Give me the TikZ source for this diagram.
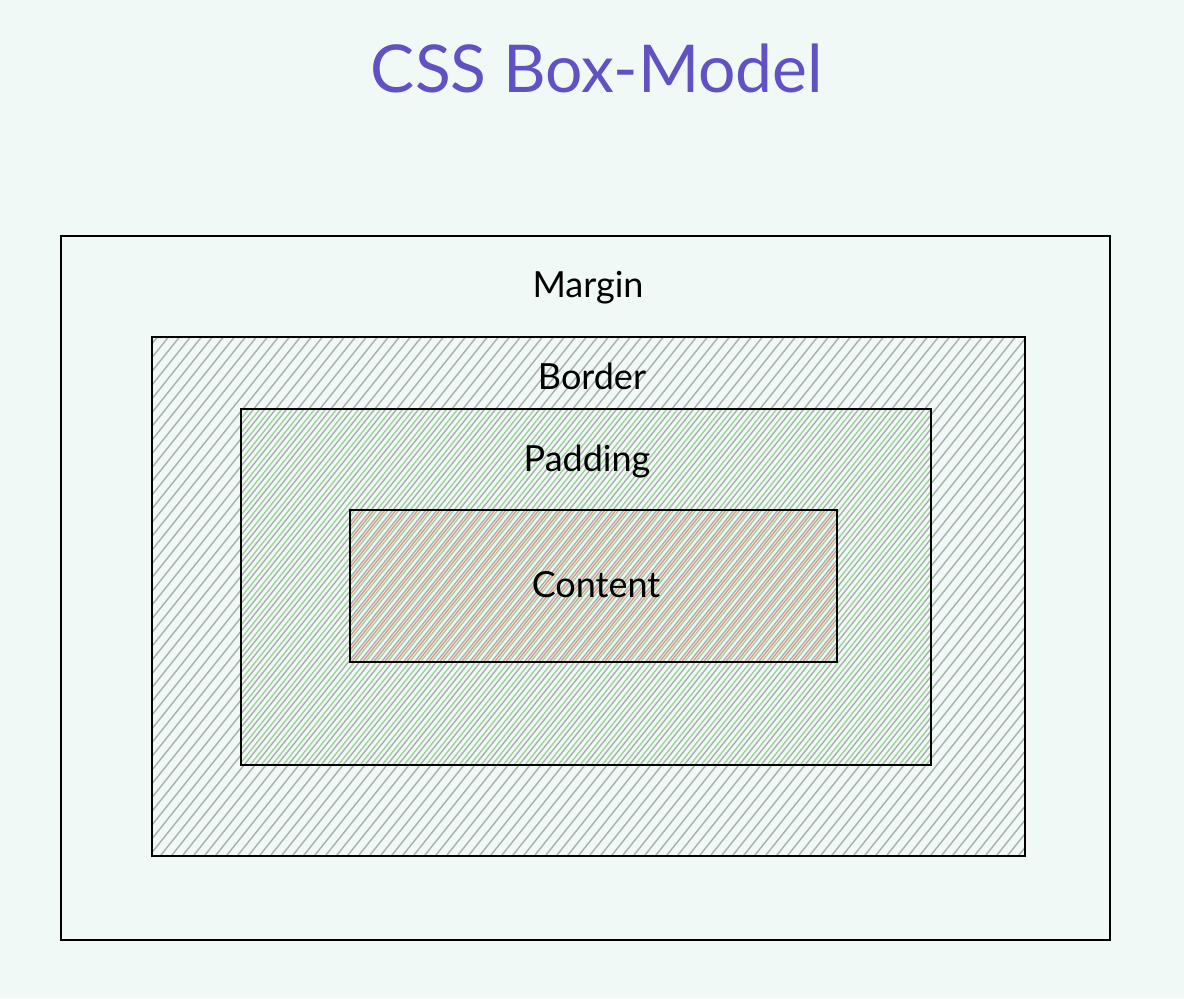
\documentclass[tikz,border=0pt]{standalone}
\usepackage{fontspec}
\setmainfont{Lato}
\usetikzlibrary{positioning}
\definecolor{BoxBg}{HTML}{F1F9F6}
\definecolor{TitlePurple}{HTML}{6151C4}
\definecolor{HatchGray}{HTML}{A9AFAE}
\definecolor{HatchGreen}{HTML}{9ED39A}
\definecolor{HatchRed}{HTML}{E0958A}

\begin{document}
\begin{tikzpicture}[
  x=0.5pt,y=-0.5pt,
  frame/.style={draw=black,line width=1pt},
  lbl/.style={font=\fontsize{18}{20}\selectfont,text=black},
  hgray/.style={draw=HatchGray,line width=0.7pt},
  hgreen/.style={draw=HatchGreen,line width=0.7pt},
  hred/.style={draw=HatchRed,line width=0.7pt}
]
\fill[BoxBg] (0,0) rectangle (1184,998);
\useasboundingbox (0,0) rectangle (1184,998);

% corners of the four boxes
\coordinate (mTL) at (61,236);   \coordinate (mBR) at (1110,940);
\coordinate (bTL) at (152,337);  \coordinate (bBR) at (1025,856);
\coordinate (pTL) at (241,409);  \coordinate (pBR) at (931,765);
\coordinate (cTL) at (350,510);  \coordinate (cBR) at (837,662);

% hatching
\begin{scope}
  \clip (bTL) rectangle (bBR);
  \foreach \s in {-700,-689,...,1100}
    \draw[hgray] (\s,900) -- ++(640,-800);
\end{scope}
\begin{scope}
  \clip (pTL) rectangle (pBR);
  \foreach \s in {-694,-683,...,1100}
    \draw[hgreen] (\s,900) -- ++(640,-800);
\end{scope}
\begin{scope}
  \clip (cTL) rectangle (cBR);
  \foreach \s in {-697,-686,...,1100}
    \draw[hred] (\s,900) -- ++(640,-800);
\end{scope}

% boxes
\draw[frame,line width=0.9pt] (mTL) rectangle (mBR);
\draw[frame] (bTL) rectangle (bBR);
\draw[frame] (pTL) rectangle (pBR);
\draw[frame] (cTL) rectangle (cBR);

% labels
\node[font=\fontsize{33}{36}\selectfont,text=TitlePurple] (title) at (597,68) {CSS Box-Model};
\node[lbl] (margin) at (588,288) {Margin};
\node[lbl] (border) at (592,376) {Border};
\node[lbl] (padding) at (587,462) {Padding};
\node[lbl] (content) at (596,585) {Content};
\end{tikzpicture}
\end{document}
